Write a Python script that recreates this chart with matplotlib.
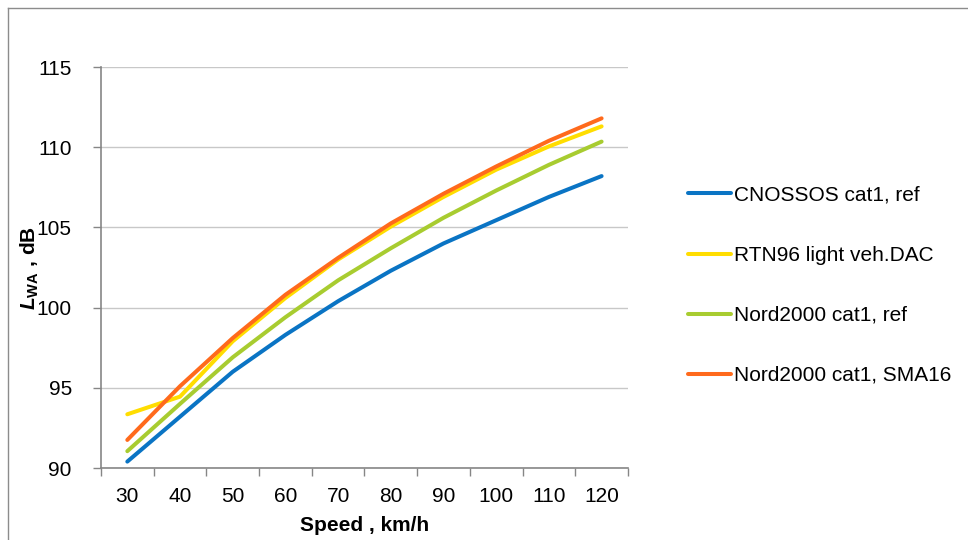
import matplotlib
matplotlib.use('Agg')
from matplotlib import pyplot as plt
from matplotlib.lines import Line2D

plt.rcParams['font.family'] = ['Liberation Sans', 'DejaVu Sans']
plt.rcParams['mathtext.fontset'] = 'custom'
plt.rcParams['mathtext.rm'] = 'Liberation Sans'
plt.rcParams['mathtext.bf'] = 'Liberation Sans:bold'
plt.rcParams['mathtext.it'] = 'Liberation Sans:italic'
plt.rcParams['mathtext.bfit'] = 'Liberation Sans:italic:bold'

speeds = ['30', '40', '50', '60', '70', '80', '90', '100', '110', '120']
cnossos = [90.4, 93.2, 96.0, 98.3, 100.4, 102.3, 104.0, 105.45, 106.9, 108.2]
rtn96 = [93.35, 94.45, 97.9, 100.6, 103.0, 105.05, 106.9, 108.6, 110.05, 111.3]
nord_ref = [91.05, 94.0, 96.9, 99.4, 101.7, 103.7, 105.6, 107.3, 108.9, 110.35]
nord_sma = [91.75, 95.1, 98.1, 100.8, 103.1, 105.25, 107.1, 108.8, 110.4, 111.8]

series = ['CNOSSOS cat1, ref', 'RTN96 light veh.DAC', 'Nord2000 cat1, ref', 'Nord2000 cat1, SMA16']
colors = ['#0A74C4', '#FFDD00', '#A8CC30', '#FF6A1C']
fs = 15

fig = plt.figure(figsize=(9.68, 5.4), dpi=100)
ax = fig.add_axes([0.1043, 0.1333, 0.5444, 0.7426])

x = list(range(len(speeds)))
for vals, c, name in zip([cnossos, rtn96, nord_ref, nord_sma], colors, series):
    ax.plot(x, vals, color=c, lw=2.9, solid_capstyle='round', label=name)

ax.set_xlim(-0.5, len(speeds) - 0.5)
ax.set_ylim(90, 115)
ax.set_yticks([90, 95, 100, 105, 110, 115])
ax.set_xticks(x)
ax.set_xticklabels(speeds)
ax.set_xticks([i - 0.5 for i in range(len(speeds) + 1)], minor=True)
ax.tick_params(axis='x', which='major', length=0, pad=14, labelsize=fs)
ax.tick_params(axis='x', which='minor', length=6, width=1, color='#868686', direction='out')
ax.tick_params(axis='y', length=6, width=1, color='#868686', pad=15, labelsize=fs)
ax.grid(axis='y', color='#c8c8c8', lw=1)
ax.set_axisbelow(True)
for s in ['top', 'right']:
    ax.spines[s].set_visible(False)
for s in ['left', 'bottom']:
    ax.spines[s].set_color('#868686')
    ax.spines[s].set_linewidth(1.2)

ax.set_xlabel('Speed , km/h', fontsize=fs, fontweight='bold', labelpad=7)
ax.set_ylabel(r'$\mathbfit{L}_{\mathbf{WA}}$ , dB', fontsize=fs, fontweight='bold', labelpad=-3)

handles = [Line2D([], [], color=c, lw=2.9, solid_capstyle='round') for c in colors]
fig.legend(handles, series, loc='upper left', bbox_to_anchor=(0.711, 0.656),
           frameon=False, fontsize=fs, handlelength=2.07, handletextpad=0.15,
           labelspacing=1.97, borderpad=0, borderaxespad=0)

fig.add_artist(Line2D([8 / 968, 8 / 968], [0, 1 - 8 / 540], transform=fig.transFigure, color='#8c8c8c', lw=1))
fig.add_artist(Line2D([8 / 968, 1], [1 - 8 / 540, 1 - 8 / 540], transform=fig.transFigure, color='#8c8c8c', lw=1))

fig.savefig('out.png', dpi=100)
